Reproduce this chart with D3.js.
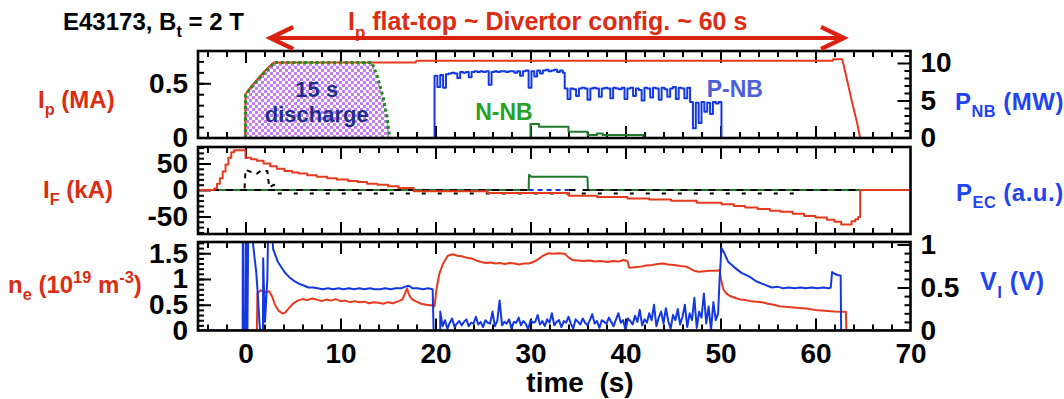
<!DOCTYPE html>
<html>
<head>
<meta charset="utf-8">
<script src="https://cdn.jsdelivr.net/npm/d3@7"></script>
<style>
  html, body { margin: 0; padding: 0; background: #fff; }
  svg { display: block; font-family: "Liberation Sans", Arial, Helvetica, sans-serif; font-weight: bold; }
  svg text { white-space: pre; }
</style>
</head>
<body>
<svg id="chart" width="1064" height="399"></svg>
<script>
// ---------------- time base ----------------
const timeDomain = [-5, 70];
const timeTickLabels = [0, 10, 20, 30, 40, 50, 60, 70];
const flatTop = [2.6, 63.0];          // Ip flat-top window (s)

// ---------------- panel 1: Ip (MA), P_NB (MW) ----------------
const plasmaCurrent = [[-0.05,0],[0,0.40],[0.5,0.46],[1.0,0.51],[1.5,0.56],[2.0,0.61],[2.6,0.66],[3.0,0.69],
  [17.9,0.69],[18.0,0.705],[61.8,0.705],[61.85,0.72],[62.8,0.72],[62.9,0.69],[63.4,0.50],[63.8,0.345],
  [64.4,0.13],[64.7,0.0]];
const shortDischarge = [[0,0],[0,0.39],[0.5,0.45],[1.5,0.55],[2.6,0.65],[3.1,0.69],[13.3,0.69],
  [13.9,0.555],[14.5,0.365],[14.9,0.19],[15.1,0.045],[15.2,0]];
// positive-ion beam power, sampled every 0.3 s in three phases
const pnbStep = 0.3;
const pnbPhase1Start = 19.9;
const pnbPhase1 = [8.3,6.8,8.4,6.7,8.5,8.6,8.7,8.6,8.0,8.8,8.7,8.8,8.1,8.8,8.9,8.8,8.9,8.8,8.9,7.1,
  8.8,8.9,8.8,8.9,8.9,8.8,8.9,8.9,8.7,8.9,8.3,8.9,9.0,6.7,8.9,8.2,9.0,8.6,9.0,9.1,8.9,9.0,9.1,8.8,9.0,8.7];
const pnbPhase2Start = 33.6;
const pnbPhase2 = [6.6,5.2,6.6,6.5,5.6,6.6,6.7,6.6,5.1,6.6, 6.7,6.6,5.5,6.6,6.7,6.6,5.3,6.7,6.6,6.5,
  6.7,5.2,6.6,6.7,5.6,6.6,6.4,5.0,6.7,6.6, 5.4,6.7,6.6,5.1,6.7,6.5,5.5,6.6,6.8,5.2, 6.7,6.6,5.3,6.7];
const pnbPhase3Start = 46.8;
const pnbPhase3 = [4.8,1.3,4.7,2.0,4.8,3.5,4.7,3.2,4.8,4.6,4.8];
const pnbEnd = 50.1;
const nnbPower = [[30.0,0],[30.0,1.87],[30.9,1.5],[34.0,0.84],[36.0,0.4],[37.0,0.6],[37.6,0.4],[41.9,0]];

// ---------------- panel 2: I_F (kA), P_EC (a.u.) ----------------
const fieldCurrent = [[-5,0],[-3.3,3],[-3.0,12],[-2.7,22],[-2.4,35],[-2.1,48],[-1.8,61],[-1.5,71],[-1.2,75],
  [0.0,61],[0.6,58],[1.2,55],[1.9,50],[2.6,45],[3.3,40],[4.1,36],[4.9,33],[5.6,31],[6.5,28],[7.5,25],
  [8.6,22],[9.6,20],[10.8,17],[11.8,15],[12.8,12],[13.9,10],[15.0,7],[16.1,4],[17.7,-2.5],[25.5,-5.5],
  [34.0,-11],[37.0,-13],[40.2,-16],[42.5,-18],[44.8,-20.5],[47.5,-24],[50.1,-27],[51.4,-30],[52.6,-33],
  [53.9,-36],[55.2,-39],[56.3,-41],[57.6,-45],[58.8,-49],[60.0,-52],[61.2,-56],[62.0,-60],[62.7,-65],
  [63.3,-65],[63.8,-59],[64.2,-55],[64.5,-51],[64.7,0],[70,0]];
const ecPower = [[-5,0],[29.8,0],[29.85,1.15],[30.1,1.0],[35.9,1.0],[36.0,0.9],[36.05,0],[70,0]];
const coilStartup = [[-0.1,3],[0.0,38],[0.6,34],[1.2,31],[1.6,36],[2.3,36],[2.4,20],[2.5,5],[3.0,10],[3.3,0]];
const coilOffset = [[3.4,-6.5],[58.2,-6.5]];

// ---------------- panel 3: n_e (1e19 m^-3), V_l (V) ----------------
const density = [[-5,0],[1.2,0],[1.25,0.72],[1.6,0.78],[2.0,0.74],[2.5,0.76],[2.8,0.66],[3.1,0.5],[3.5,0.38],
  [3.9,0.33],[4.2,0.35],[4.5,0.42],[5.0,0.52],[5.5,0.58],[6.0,0.61],[6.5,0.59],[7.0,0.62],[7.5,0.6],[8.0,0.57],
  [8.5,0.6],[9.0,0.58],[9.5,0.61],[10.0,0.57],[10.5,0.58],[11.0,0.55],[11.5,0.57],[12.0,0.55],[12.5,0.56],
  [13.0,0.53],[13.5,0.55],[14.0,0.54],[14.5,0.52],[15.0,0.55],[15.5,0.53],[16.0,0.56],[16.5,0.6],[16.8,0.72],
  [17.0,0.82],[17.2,0.7],[17.5,0.61],[18.0,0.56],[18.5,0.52],[19.0,0.5],[19.5,0.49],[19.9,0.47],[20.1,0.8],
  [20.4,1.1],[20.8,1.3],[21.3,1.45],[21.8,1.48],[22.3,1.45],[22.8,1.44],[23.3,1.41],[23.8,1.4],[24.3,1.36],
  [24.8,1.33],[25.3,1.31],[25.8,1.32],[26.3,1.3],[26.8,1.31],[27.3,1.29],[27.8,1.31],[28.3,1.3],[28.8,1.28],
  [29.3,1.3],[29.8,1.3],[30.3,1.33],[30.8,1.38],[31.3,1.45],[31.9,1.5],[32.4,1.49],[33.0,1.5],[33.6,1.49],
  [34.0,1.42],[34.4,1.37],[35.0,1.36],[35.6,1.35],[36.2,1.36],[36.8,1.34],[37.4,1.35],[38.1,1.33],[38.7,1.35],
  [39.3,1.34],[39.8,1.37],[40.2,1.35],[40.4,1.22],[41.0,1.23],[41.6,1.24],[42.2,1.26],[42.8,1.27],[43.4,1.29],
  [43.9,1.3],[44.5,1.28],[45.1,1.27],[45.8,1.25],[46.4,1.24],[46.8,1.2],[47.2,1.16],[47.7,1.14],[48.3,1.15],
  [48.9,1.16],[49.5,1.16],[49.9,1.17],[50.1,0.95],[50.3,0.8],[50.6,0.72],[51.0,0.67],[51.6,0.63],[52.1,0.6],
  [52.6,0.59],[53.2,0.57],[53.8,0.56],[54.4,0.55],[55.0,0.52],[55.6,0.5],[56.2,0.47],[56.8,0.46],[57.4,0.45],
  [58.0,0.44],[58.6,0.43],[59.3,0.42],[60.0,0.4],[60.6,0.39],[61.3,0.38],[62.0,0.37],[62.7,0.365],[63.2,0.365],
  [63.25,0],[65.0,0]];
const loopVoltageStartup = [[-5,0],[-0.3,0],[-0.28,1.3],[-0.2,0],[0.0,0],[0.02,1.3],[0.2,0],[0.3,1.3],[0.6,1.2],
  [0.96,0.84],[1.13,0.68],[1.3,0.41],[1.49,0.06],[1.55,0],[1.84,0],[1.86,0.84],[1.95,0.45],[2.05,0.1],[2.3,0.6],
  [2.4,1.3],[2.75,1.3],[2.9,0.95],[3.4,0.8],[4.1,0.68],[4.6,0.62],[5.2,0.57],[5.7,0.54],[6.2,0.52],[6.6,0.5],
  [7.1,0.5],[7.6,0.49],[8.1,0.48],[8.7,0.49],[9.2,0.48],[9.8,0.49],[10.3,0.48],[10.9,0.49],[11.4,0.48],
  [12.0,0.49],[12.5,0.48],[13.1,0.49],[13.6,0.48],[14.2,0.48],[14.7,0.49],[15.3,0.48],[15.8,0.49],[16.4,0.49],
  [16.8,0.51],[17.2,0.52],[17.6,0.49],[18.1,0.49],[18.7,0.48],[19.2,0.49],[19.7,0.48],[19.8,0],[20.5,0]];
// beam-heated phase, sampled every 0.25 s
const loopVoltageBeamStart = 20.5;
const loopVoltageBeamStep = 0.25;
const loopVoltageBeam = [
  0.22,0.05,0.12,0.02,0.09,0.14,0.04,0.08,0.11,0.06,
  0.10,0.13,0.05,0.09,0.08,0.16,0.07,0.10,0.04,0.12,
  0.09,0.08,0.22,0.05,0.11,0.35,0.06,0.10,0.08,0.13,
  0.02,0.10,0.09,0.15,0.06,0.11,0.08,0.01,0.12,0.09,
  0.10,0.18,0.07,0.11,0.05,0.13,0.09,0.20,0.06,0.10,
  0.12,0.04,0.11,0.09,0.16,0.08,0.02,0.13,0.10,0.07,
  0.14,0.09,0.06,0.12,0.19,0.08,0.11,0.03,0.12,0.10,
  0.08,0.15,0.10,0.05,0.13,0.20,0.09,0.12,0.01,0.14,
  0.11,0.07,0.17,0.10,0.24,0.06,0.13,0.09,0.20,0.12,
  0.30,0.05,0.15,0.22,0.08,0.26,0.11,0.02,0.18,0.12,
  0.25,0.07,0.16,0.30,0.04,0.20,0.12,0.38,0.03,0.22,
  0.15,0.43,0.08,0.28,0.00,0.33,0.12,0.20];
const loopVoltageRampDown = [[49.9,0.58],[50.1,0.96],[50.4,0.9],[50.8,0.8],[51.4,0.74],[52.2,0.67],[53.0,0.63],
  [53.8,0.57],[54.7,0.53],[55.4,0.5],[56.0,0.51],[56.6,0.49],[57.2,0.5],[57.8,0.49],[58.4,0.5],[59.0,0.49],
  [59.6,0.5],[60.2,0.49],[60.8,0.5],[61.4,0.49],[61.6,0.5],[61.75,0.68],[62.0,0.66],[62.3,0.645],[62.65,0.64],
  [62.7,0],[70,0]];

// ---------------- colours ----------------
const RED = "#e53a1e", RED_TEXT = "#dc2c12", BLUE = "#1438e0", BLUE_TEXT = "#1f45f0";
const GREEN = "#1f7a2c", GREEN_TEXT = "#27a127", NAVY = "#1c2e8e", PNB_TEXT = "#4d5fd9";

// ---------------- layout ----------------
const frameLeft = 198, frameRight = 910.5;
const panels = [
  { top: 51,  bottom: 138 },
  { top: 147, bottom: 234 },
  { top: 242, bottom: 330.5 }
];

const svg = d3.select("#chart");
const defs = svg.append("defs");

const checker = defs.append("pattern").attr("id", "checker")
  .attr("width", 6).attr("height", 6).attr("patternUnits", "userSpaceOnUse");
checker.append("rect").attr("width", 6).attr("height", 6).attr("fill", "#fff");
checker.append("rect").attr("width", 3).attr("height", 3).attr("fill", "#c77df2");
checker.append("rect").attr("x", 3).attr("y", 3).attr("width", 3).attr("height", 3).attr("fill", "#c77df2");

panels.forEach((p, i) => {
  defs.append("clipPath").attr("id", "clip" + i).append("rect")
    .attr("x", frameLeft).attr("y", p.top)
    .attr("width", frameRight - frameLeft).attr("height", p.bottom - p.top);
});

// ---------------- scales ----------------
const x = d3.scaleLinear().domain(timeDomain).range([frameLeft, frameRight]);
const ipY  = d3.scaleLinear().domain([0, 0.795]).range([panels[0].bottom, panels[0].top]);
const pnbY = d3.scaleLinear().domain([0, 11.6]).range([panels[0].bottom, panels[0].top]);
const ifY  = d3.scaleLinear().domain([-83, 81.1]).range([panels[1].bottom, panels[1].top]);
const ecY  = d3.scaleLinear().domain([-3.31, 3.23]).range([panels[1].bottom, panels[1].top]);
const neY  = d3.scaleLinear().domain([0, 1.718]).range([panels[2].bottom, panels[2].top]);
const vlY  = d3.scaleLinear().domain([0, 1.029]).range([panels[2].bottom, panels[2].top]);

// ---------------- helpers ----------------
function sampled(start, step, values) {
  return values.map((v, i) => [start + i * step, v]);
}
function drawLine(layer, data, yScale, color, opts = {}) {
  const gen = d3.line().x(d => x(d[0])).y(d => yScale(d[1]))
    .curve(opts.step ? d3.curveStepAfter : d3.curveLinear);
  const path = layer.append("path").datum(data).attr("d", gen)
    .attr("fill", "none").attr("stroke", color)
    .attr("stroke-width", opts.width || 2).attr("stroke-linejoin", "round");
  if (opts.dash) path.attr("stroke-dasharray", opts.dash);
  return path;
}
function richText(parent, px, py, parts, size, color, anchor = "start", spacing = 0) {
  const t = parent.append("text").attr("x", px).attr("y", py)
    .attr("font-size", size).attr("fill", color).attr("text-anchor", anchor);
  if (spacing) t.attr("letter-spacing", spacing);
  let shift = 0;
  parts.forEach(p => {
    const s = t.append("tspan").text(p.t);
    const target = p.sub ? 0.3 * size : p.sup ? -0.42 * size : 0;
    if (p.sub || p.sup) s.attr("font-size", size * 0.68);
    if (target - shift !== 0) s.attr("dy", target - shift);
    shift = target;
  });
  return t;
}
function styleTicks(g) {
  g.select(".domain").remove();
  g.selectAll("line").attr("stroke", "#000").attr("stroke-width", 2);
}
function styleLabels(g) {
  g.select(".domain").remove();
  g.attr("font-size", 28).attr("font-family", null).attr("font-weight", "bold");
  g.selectAll("text").attr("fill", "#000");
}
const axes = svg.append("g");
function timeTicks(p) {
  const minor = d3.range(-4, 70, 2).filter(v => v % 10 !== 0);
  const major = d3.range(0, 70, 10);
  [[minor, 6], [major, 12]].forEach(([vals, len]) => {
    axes.append("g").attr("transform", `translate(0,${p.bottom})`)
      .call(d3.axisTop(x).tickValues(vals).tickSize(len).tickFormat("")).call(styleTicks);
    axes.append("g").attr("transform", `translate(0,${p.top})`)
      .call(d3.axisBottom(x).tickValues(vals).tickSize(len).tickFormat("")).call(styleTicks);
  });
}
function valueTicks(scale, side, minor, major) {
  const xPos = side === "left" ? frameLeft : frameRight;
  const mk = side === "left" ? d3.axisRight : d3.axisLeft;
  [[minor, 6], [major, 13]].forEach(([vals, len]) => {
    axes.append("g").attr("transform", `translate(${xPos},0)`)
      .call(mk(scale).tickValues(vals).tickSize(len).tickFormat("")).call(styleTicks);
  });
}
function valueLabels(scale, side, vals) {
  const xPos = side === "left" ? frameLeft : frameRight;
  const mk = side === "left" ? d3.axisLeft : d3.axisRight;
  axes.append("g").attr("transform", `translate(${xPos},0)`)
    .call(mk(scale).tickValues(vals).tickSize(0).tickPadding(10).tickFormat(d => String(d)))
    .call(styleLabels);
}

// ---------------- panel 1 ----------------
const l1 = svg.append("g").attr("clip-path", "url(#clip0)");
const areaGen = d3.area().x(d => x(d[0])).y0(ipY(0)).y1(d => ipY(d[1]));
l1.append("path").datum(shortDischarge).attr("d", areaGen).attr("fill", "url(#checker)");
drawLine(l1, plasmaCurrent, ipY, RED);
const pnbSeries = [[pnbPhase1Start, 0]]
  .concat(sampled(pnbPhase1Start, pnbStep, pnbPhase1))
  .concat(sampled(pnbPhase2Start, pnbStep, pnbPhase2))
  .concat(sampled(pnbPhase3Start, pnbStep, pnbPhase3))
  .concat([[pnbEnd, 0]]);
drawLine(l1, pnbSeries, pnbY, BLUE, { step: true });
drawLine(l1, nnbPower, pnbY, GREEN, { step: true });
drawLine(l1, shortDischarge, ipY, "#1f8f1f", { width: 3.2, dash: "3,2.8" });

richText(l1, x(7.5), ipY(0.375), [{ t: "15 s" }], 22, NAVY, "middle");
richText(l1, x(7.5), ipY(0.146), [{ t: "discharge" }], 22, NAVY, "middle");
richText(svg, x(27.2), pnbY(2.4), [{ t: "N-NB" }], 23, GREEN_TEXT, "middle");
richText(svg, x(51.5), pnbY(5.47), [{ t: "P-NB" }], 23, PNB_TEXT, "middle");

// ---------------- panel 2 ----------------
const l2 = svg.append("g").attr("clip-path", "url(#clip1)");
drawLine(l2, [[29.8, 0], [34.0, 0]], ecY, BLUE, { dash: "5,4" });
drawLine(l2, ecPower, ecY, GREEN);
drawLine(l2, [[timeDomain[0], 0], [29.8, 0]], ifY, "#000", { dash: "7,7" });
drawLine(l2, [[34.0, 0], [64.7, 0]], ifY, "#000", { dash: "7,7" });
drawLine(l2, [[64.7, 0], [timeDomain[1], 0]], ifY, "#000");
drawLine(l2, coilStartup, ifY, "#000", { dash: "5,5" });
drawLine(l2, coilOffset, ifY, "#000", { dash: "4,12" });
drawLine(l2, fieldCurrent, ifY, RED, { step: true });

// ---------------- panel 3 ----------------
const l3 = svg.append("g").attr("clip-path", "url(#clip2)");
drawLine(l3, density, neY, RED);
const loopVoltage = loopVoltageStartup
  .concat(sampled(loopVoltageBeamStart, loopVoltageBeamStep, loopVoltageBeam))
  .concat(loopVoltageRampDown);
drawLine(l3, loopVoltage, vlY, BLUE);

// ---------------- axes ----------------
panels.forEach(timeTicks);
valueTicks(ipY, "left", d3.range(0.1, 0.75, 0.1), [0.5]);
valueTicks(pnbY, "right", d3.range(1, 11.5, 1).filter(v => v % 5 !== 0), [5, 10]);
valueTicks(ifY, "left", d3.range(-80, 81, 10).filter(v => v % 50 !== 0), [-50, 0, 50]);
valueTicks(neY, "left", d3.range(0.1, 1.71, 0.1), [0.5, 1, 1.5]);
valueTicks(vlY, "right", d3.range(0.1, 0.95, 0.1), [0.5, 1]);

valueLabels(ipY, "left", [0, 0.5]);
valueLabels(pnbY, "right", [0, 5, 10]);
valueLabels(ifY, "left", [-50, 0, 50]);
valueLabels(neY, "left", [0, 0.5, 1, 1.5]);
valueLabels(vlY, "right", [0, 0.5, 1]);

axes.append("g").attr("transform", `translate(0,${panels[2].bottom})`)
  .call(d3.axisBottom(x).tickValues(timeTickLabels).tickSize(0).tickPadding(12.5).tickFormat(d => String(d)))
  .call(styleLabels);

panels.forEach(p => {
  svg.append("rect").attr("x", frameLeft).attr("y", p.top)
    .attr("width", frameRight - frameLeft).attr("height", p.bottom - p.top)
    .attr("fill", "none").attr("stroke", "#000").attr("stroke-width", 2.6);
});

// ---------------- titles ----------------
richText(svg, 580, 392, [{ t: "time  (s)" }], 28, "#000", "middle");
richText(svg, 38, 108, [{ t: "I" }, { t: "p", sub: true }, { t: " (MA)" }], 24, RED_TEXT);
richText(svg, 43, 198, [{ t: "I" }, { t: "F", sub: true }, { t: " (kA)" }], 24, RED_TEXT);
richText(svg, 8, 293, [{ t: "n" }, { t: "e", sub: true }, { t: " (10" }, { t: "19", sup: true },
  { t: " m" }, { t: "-3", sup: true }, { t: ")" }], 24, RED_TEXT);
richText(svg, 955, 110, [{ t: "P" }, { t: "NB", sub: true }, { t: " (MW)" }], 24, BLUE_TEXT, "start", 0.5);
richText(svg, 956, 201, [{ t: "P" }, { t: "EC", sub: true }, { t: " (a.u.)" }], 24, BLUE_TEXT, "start", 0.5);
richText(svg, 980, 290, [{ t: "V" }, { t: "l", sub: true }, { t: " (V)" }], 25, BLUE_TEXT, "start", 0.5);

richText(svg, 63, 29.5, [{ t: "E43173, B" }, { t: "t", sub: true }, { t: " = 2 T" }], 24, "#000");
richText(svg, 348, 30, [{ t: "I" }, { t: "p", sub: true }, { t: " flat-top ~ Divertor config. ~ 60 s" }], 25, RED_TEXT);

// flat-top arrow
const arrowY = 38;
const arrow = svg.append("g").attr("stroke", "#d9220f").attr("stroke-width", 4.2)
  .attr("fill", "none").attr("stroke-linecap", "butt").attr("stroke-linejoin", "miter");
arrow.append("line").attr("x1", x(flatTop[0]) + 2).attr("x2", x(flatTop[1]) - 2)
  .attr("y1", arrowY).attr("y2", arrowY);
arrow.append("path").attr("d", d3.line()([[x(flatTop[0]) + 23, arrowY - 11], [x(flatTop[0]), arrowY], [x(flatTop[0]) + 23, arrowY + 11]]));
arrow.append("path").attr("d", d3.line()([[x(flatTop[1]) - 23, arrowY - 11], [x(flatTop[1]), arrowY], [x(flatTop[1]) - 23, arrowY + 11]]));
</script>
</body>
</html>
